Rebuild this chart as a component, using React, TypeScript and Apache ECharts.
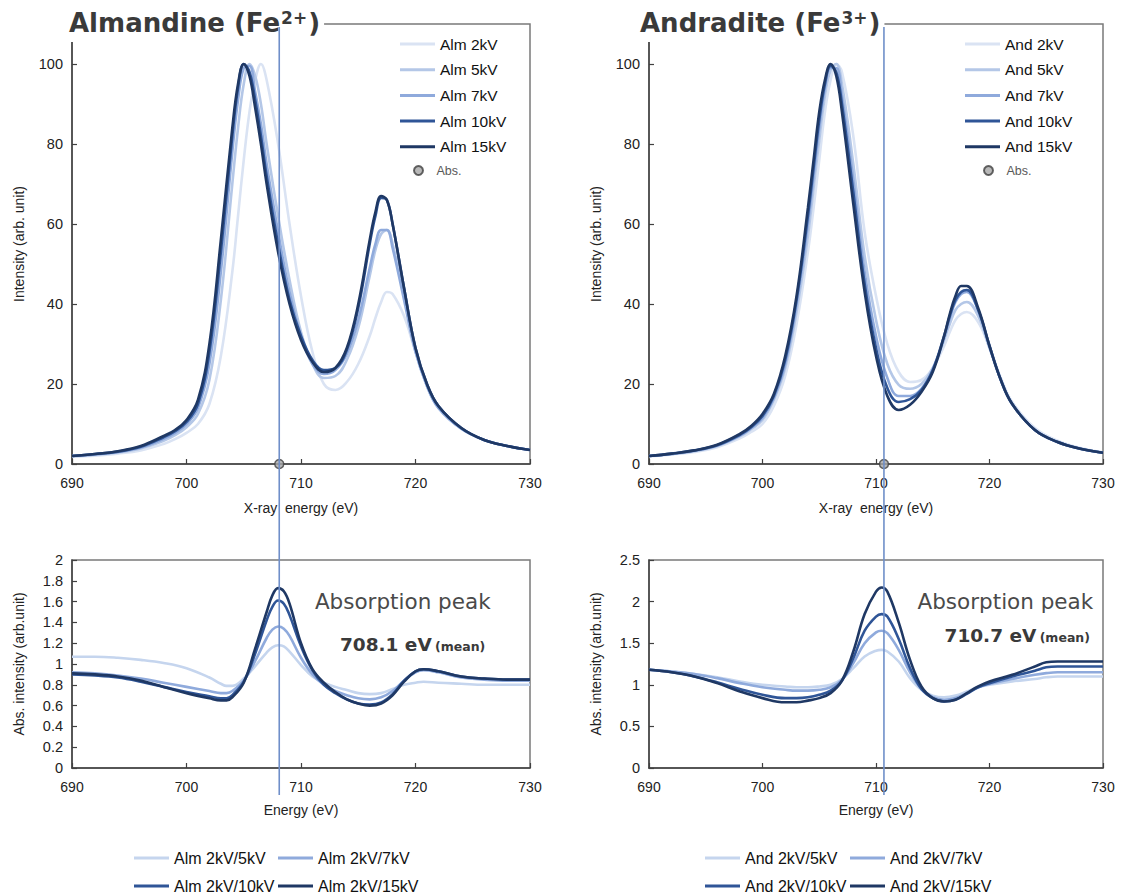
import React, { useEffect, useRef } from "react";
import * as echarts from "echarts";

// ---------- DATA ----------
const topEnergies = [690, 692, 694, 696, 698, 699, 700, 701, 702, 703, 704, 704.5, 705, 705.5, 706, 706.5, 707, 708, 709, 710, 711, 712, 713, 714, 715, 716, 716.5, 717, 717.5, 718, 719, 720, 721, 722, 724, 726, 728, 730];

const almNames = ["Alm 2kV", "Alm 5kV", "Alm 7kV", "Alm 10kV", "Alm 15kV"];
const alm2kV = [1.8, 2.1, 2.6, 3.4, 5, 6.2, 7.8, 10, 15, 27, 48, 62, 76, 88, 96, 100, 96, 80, 60, 42, 28, 20, 18.5, 20.5, 25, 32, 36.5, 40.5, 43, 42.5, 37, 28, 20, 14.5, 9, 6, 4.5, 3.5];
const alm5kV = [2, 2.3, 2.9, 3.9, 5.8, 7.2, 9.2, 12.5, 21, 41, 70, 84, 95, 100, 97, 90, 80, 62, 46, 33, 25, 21.5, 22, 26, 34, 47, 53.5, 57.5, 58.5, 55, 42, 28.5, 19.5, 14, 8.8, 6, 4.5, 3.5];
const alm7kV = [2, 2.4, 3, 4.1, 6.3, 7.8, 10, 14, 25, 48, 78, 91, 99, 99.5, 93, 85, 75, 58, 43, 32, 25, 22.5, 23.5, 27.5, 36, 49, 55, 58.5, 58.5, 54, 41, 28, 19.5, 14, 8.8, 6, 4.5, 3.5];
const alm10kV = [2, 2.5, 3.1, 4.3, 6.7, 8.2, 10.5, 15, 28, 53, 82, 94, 100, 98, 91, 82, 72, 55, 41, 32, 26, 23.5, 24, 28.5, 39, 55, 62, 66.5, 66, 60, 44, 29, 20, 14.5, 9, 6, 4.5, 3.5];
const alm15kV = [2, 2.5, 3.2, 4.5, 7, 8.5, 11, 16, 30, 56, 84, 95, 100, 97, 89, 80, 70, 53, 40, 31, 25.5, 23, 24, 29, 40, 56, 63, 67, 66, 60, 44, 29, 20, 14.5, 9, 6, 4.5, 3.5];

const andNames = ["And 2kV", "And 5kV", "And 7kV", "And 10kV", "And 15kV"];
const and2kV = [1.9, 2.4, 3, 4.2, 6.4, 8, 10, 14.5, 22, 35, 53, 64, 76, 88, 96, 100, 98, 82, 58, 42, 30, 23, 20.5, 21, 24, 29.5, 33, 36, 37.5, 38, 35.5, 29, 21.5, 15.5, 9, 5.8, 4, 2.9];
const and5kV = [2, 2.5, 3.2, 4.5, 6.9, 8.7, 11, 16, 24, 38, 57, 69, 81, 92, 98.5, 100, 95, 75, 52, 36, 25, 19.8, 18.8, 20, 24, 31, 35, 38.5, 40, 40.5, 37, 29, 21, 15, 8.5, 5.5, 3.8, 2.8];
const and7kV = [2, 2.5, 3.3, 4.6, 7.1, 9, 11.5, 16.5, 25, 40, 60, 72, 84, 94, 99, 99, 92, 71, 48, 32, 21.5, 17, 17, 18.8, 23.5, 31.5, 36.5, 40.5, 42.5, 43, 38.5, 29.5, 21, 15, 8.5, 5.5, 3.8, 2.8];
const and10kV = [2, 2.6, 3.4, 4.7, 7.3, 9.2, 12, 17, 26, 41, 62, 74, 86, 95, 99.5, 98, 90, 68, 45, 29, 19, 15.5, 16.2, 18.5, 23.5, 32, 37, 41, 43, 43.5, 38.5, 29.5, 21, 15, 8.5, 5.5, 3.8, 2.8];
const and15kV = [2, 2.6, 3.4, 4.8, 7.5, 9.5, 12.5, 17.5, 27, 42, 64, 76, 88, 96, 100, 97, 88, 65, 43, 27, 17, 13.5, 14.8, 18, 23, 32, 37.5, 42, 44.5, 44.5, 39, 29.5, 21, 15, 8.5, 5.5, 3.8, 2.8];

const almAbsEnergies = [690, 692, 694, 696, 698, 700, 702, 703, 703.5, 704, 705, 706, 707, 707.5, 708, 708.5, 709, 710, 711, 712, 713, 714, 715, 716, 717, 718, 719, 720, 720.7, 722, 724, 726, 728, 730];
const almRatioNames = ["Alm 2kV/5kV", "Alm 2kV/7kV", "Alm 2kV/10kV", "Alm 2kV/15kV"];
const almR5 = [1.07, 1.07, 1.06, 1.04, 1.01, 0.96, 0.87, 0.81, 0.79, 0.79, 0.86, 0.98, 1.11, 1.16, 1.18, 1.17, 1.12, 0.99, 0.88, 0.82, 0.78, 0.75, 0.72, 0.71, 0.72, 0.76, 0.8, 0.82, 0.83, 0.82, 0.81, 0.8, 0.8, 0.8];
const almR7 = [0.92, 0.91, 0.89, 0.86, 0.82, 0.78, 0.74, 0.72, 0.72, 0.74, 0.84, 1.03, 1.25, 1.33, 1.36, 1.34, 1.27, 1.06, 0.9, 0.8, 0.74, 0.7, 0.67, 0.66, 0.68, 0.74, 0.84, 0.92, 0.94, 0.92, 0.87, 0.85, 0.84, 0.84];
const almR10 = [0.9, 0.89, 0.87, 0.83, 0.78, 0.73, 0.69, 0.67, 0.67, 0.7, 0.83, 1.1, 1.42, 1.55, 1.61, 1.58, 1.47, 1.17, 0.94, 0.8, 0.72, 0.66, 0.62, 0.61, 0.63, 0.71, 0.84, 0.93, 0.95, 0.93, 0.88, 0.86, 0.85, 0.85];
const almR15 = [0.91, 0.9, 0.88, 0.84, 0.78, 0.72, 0.67, 0.65, 0.65, 0.68, 0.82, 1.15, 1.5, 1.66, 1.73, 1.7, 1.58, 1.2, 0.95, 0.82, 0.73, 0.66, 0.62, 0.6, 0.62, 0.7, 0.83, 0.93, 0.95, 0.93, 0.88, 0.86, 0.85, 0.85];

const andAbsEnergies = [690, 692, 694, 696, 698, 700, 702, 703, 704, 705, 706, 707, 708, 709, 710, 710.5, 711, 712, 713, 714, 715, 716, 717, 718, 719, 720, 722, 724, 725, 726, 728, 730];
const andRatioNames = ["And 2kV/5kV", "And 2kV/7kV", "And 2kV/10kV", "And 2kV/15kV"];
const andR5 = [1.18, 1.16, 1.13, 1.09, 1.04, 1.0, 0.98, 0.97, 0.97, 0.98, 1.0, 1.07, 1.2, 1.34, 1.41, 1.42, 1.4, 1.28, 1.08, 0.94, 0.87, 0.85, 0.87, 0.92, 0.97, 1.0, 1.04, 1.07, 1.09, 1.1, 1.1, 1.1];
const andR7 = [1.18, 1.16, 1.13, 1.08, 1.02, 0.97, 0.94, 0.93, 0.93, 0.94, 0.97, 1.06, 1.26, 1.5, 1.63, 1.65, 1.62, 1.42, 1.15, 0.95, 0.85, 0.82, 0.84, 0.9, 0.97, 1.01, 1.07, 1.12, 1.14, 1.15, 1.15, 1.15];
const andR10 = [1.18, 1.15, 1.1, 1.03, 0.95, 0.88, 0.84, 0.84, 0.85, 0.88, 0.93, 1.05, 1.32, 1.65, 1.82, 1.85, 1.82, 1.55, 1.2, 0.95, 0.84, 0.8, 0.82, 0.89, 0.97, 1.02, 1.1, 1.17, 1.21, 1.22, 1.22, 1.22];
const andR15 = [1.18, 1.15, 1.1, 1.02, 0.92, 0.84, 0.79, 0.79, 0.81, 0.84, 0.9, 1.05, 1.4, 1.85, 2.12, 2.17, 2.12, 1.75, 1.3, 0.98, 0.84, 0.8, 0.82, 0.9, 0.98, 1.04, 1.12, 1.22, 1.27, 1.28, 1.28, 1.28];

const absPeakAlm = 708.1;
const absPeakAnd = 710.7;
const xTickMin = 690;
const xTickMax = 730;

// ---------- STYLE ----------
const spectrumColors = ["#dae3f3", "#b4c7e7", "#8faadc", "#2f5597", "#1f3864"];
const ratioColors = ["#c5d5ee", "#8faadc", "#2f5597", "#1f3864"];
const FONT = "'Liberation Sans', Arial, sans-serif";
const VFONT = "'DejaVu Sans', Verdana, sans-serif";
const axisColor = "#404040";
const frameColor = "#7a7a7a";
const vlineColor = "#6f8fc9";

function zip(xs: number[], ys: number[]) {
  return xs.map((x, i) => [x, ys[i]]);
}

function lineSeries(names: string[], xs: number[], ys: number[][], colors: string[], axisIdx: number) {
  return names.map((name, i) => ({
    type: "line",
    name,
    xAxisIndex: axisIdx,
    yAxisIndex: axisIdx,
    data: zip(xs, ys[i]),
    smooth: 0.4,
    symbol: "none",
    lineStyle: { color: colors[i], width: 2.6 },
    itemStyle: { color: colors[i] },
    emphasis: { disabled: true },
    z: 2 + i,
  }));
}

function xAxisCfg(gridIndex: number, name: string, nameGap: number) {
  return {
    type: "value",
    gridIndex,
    min: xTickMin,
    max: xTickMax,
    interval: 10,
    name,
    nameLocation: "middle",
    nameGap,
    nameTextStyle: { fontFamily: FONT, fontSize: 14, color: "#222" },
    axisLine: { show: true, onZero: false, lineStyle: { color: axisColor, width: 1.5 } },
    axisTick: { show: true, inside: true, length: 5, lineStyle: { color: axisColor, width: 1.2 } },
    axisLabel: { fontFamily: FONT, fontSize: 14, color: "#222", margin: 12 },
    splitLine: { show: false },
  };
}

function yAxisCfg(gridIndex: number, name: string, max: number, interval: number, nameGap: number, hideAbove: number) {
  return {
    type: "value",
    gridIndex,
    min: 0,
    max,
    interval,
    name,
    nameLocation: "middle",
    nameGap,
    nameTextStyle: { fontFamily: FONT, fontSize: 14, color: "#222" },
    axisLine: { show: true, lineStyle: { color: axisColor, width: 1.5 } },
    axisTick: { show: true, inside: true, length: 5, lineStyle: { color: axisColor, width: 1.2 } },
    axisLabel: {
      fontFamily: FONT,
      fontSize: 14.5,
      color: "#222",
      margin: 9,
      formatter: (v: number) => (v > hideAbove + 1e-9 ? "" : String(Math.round(v * 10) / 10)),
    },
    splitLine: { show: false },
  };
}

function topLegend(names: string[], left: number) {
  return {
    orient: "vertical",
    left,
    top: 36,
    padding: 0,
    itemGap: 9.7,
    itemWidth: 35,
    itemHeight: 3,
    icon: "rect",
    data: names,
    textStyle: { fontFamily: FONT, fontSize: 15.5, color: "#111", lineHeight: 16 },
    selectedMode: false,
  };
}

function absLegend(left: number) {
  return {
    left,
    top: 164,
    padding: 0,
    itemWidth: 26,
    itemHeight: 9,
    icon: "circle",
    data: ["Abs."],
    textStyle: { fontFamily: FONT, fontSize: 12.5, color: "#595959" },
    selectedMode: false,
  };
}

function itemLegend(name: string, left: number, top: number) {
  return {
    left,
    top,
    padding: 0,
    itemWidth: 35,
    itemHeight: 3,
    icon: "rect",
    data: [name],
    textStyle: { fontFamily: FONT, fontSize: 16, color: "#111", lineHeight: 16 },
    selectedMode: false,
  };
}

function titleCfg(main: string, sup: string, left: number) {
  return {
    text: `${main}{sup|${sup}}{b|)}`,
    left,
    top: 4,
    padding: [2, 4, 2, 0],
    backgroundColor: "#ffffff",
    textStyle: {
      fontFamily: VFONT,
      fontSize: 26,
      fontWeight: "bold",
      color: "#3a3a3a",
      lineHeight: 34,
      rich: {
        sup: { fontFamily: VFONT, fontSize: 17, fontWeight: "bold", color: "#3a3a3a", verticalAlign: "top", lineHeight: 20, padding: [3, 1, 0, 1] },
        b: { fontFamily: VFONT, fontSize: 26, fontWeight: "bold", color: "#3a3a3a", lineHeight: 34 },
      },
    },
  };
}

export default function App() {
  const ref = useRef<HTMLDivElement>(null);

  useEffect(() => {
    if (!ref.current) return;
    const chart = echarts.init(ref.current, undefined, { renderer: "svg" });

    const grids = [
      { left: 72, top: 24, width: 458, height: 440 },
      { left: 649, top: 24, width: 454, height: 440 },
      { left: 72, top: 560, width: 458, height: 208 },
      { left: 649, top: 560, width: 454, height: 208 },
    ].map((g) => ({ ...g, show: true, borderColor: frameColor, borderWidth: 1.5, backgroundColor: "transparent" }));

    const absPointStyle = { color: "#a6a6a6", borderColor: "#404040", borderWidth: 1.5 };

    const option: any = {
      animation: false,
      backgroundColor: "#ffffff",
      title: [titleCfg("Almandine (Fe", "2+", 69), titleCfg("Andradite (Fe", "3+", 640)],
      grid: grids,
      xAxis: [
        xAxisCfg(0, "X-ray  energy (eV)", 37),
        xAxisCfg(1, "X-ray  energy (eV)", 37),
        xAxisCfg(2, "Energy (eV)", 35),
        xAxisCfg(3, "Energy (eV)", 35),
      ],
      yAxis: [
        yAxisCfg(0, "Intensity (arb. unit)", 110, 20, 46, 100),
        yAxisCfg(1, "Intensity (arb. unit)", 110, 20, 46, 100),
        yAxisCfg(2, "Abs. intensity (arb.unit)", 2, 0.2, 46, 2),
        yAxisCfg(3, "Abs. intensity (arb.unit)", 2.5, 0.5, 46, 2.5),
      ],
      legend: [
        topLegend(almNames, 400),
        absLegend(413),
        topLegend(andNames, 965),
        absLegend(983),
        itemLegend(almRatioNames[0], 134, 850),
        itemLegend(almRatioNames[1], 278, 850),
        itemLegend(almRatioNames[2], 134, 878),
        itemLegend(almRatioNames[3], 278, 878),
        itemLegend(andRatioNames[0], 705, 850),
        itemLegend(andRatioNames[1], 850, 850),
        itemLegend(andRatioNames[2], 705, 878),
        itemLegend(andRatioNames[3], 850, 878),
      ],
      series: [
        ...lineSeries(almNames, topEnergies, [alm2kV, alm5kV, alm7kV, alm10kV, alm15kV], spectrumColors, 0),
        ...lineSeries(andNames, topEnergies, [and2kV, and5kV, and7kV, and10kV, and15kV], spectrumColors, 1),
        ...lineSeries(almRatioNames, almAbsEnergies, [almR5, almR7, almR10, almR15], ratioColors, 2),
        ...lineSeries(andRatioNames, andAbsEnergies, [andR5, andR7, andR10, andR15], ratioColors, 3),
        {
          type: "scatter",
          name: "Abs.",
          xAxisIndex: 0,
          yAxisIndex: 0,
          data: [[absPeakAlm, 0]],
          symbol: "circle",
          symbolSize: 9,
          clip: false,
          itemStyle: absPointStyle,
          z: 20,
        },
        {
          type: "scatter",
          name: "Abs.",
          xAxisIndex: 1,
          yAxisIndex: 1,
          data: [[absPeakAnd, 0]],
          symbol: "circle",
          symbolSize: 9,
          clip: false,
          itemStyle: absPointStyle,
          z: 20,
        },
      ],
    };

    chart.setOption(option);

    // Vertical absorption-peak lines and annotations, positioned through the axes
    const pTopL = chart.convertToPixel({ gridIndex: 0 } as any, [absPeakAlm, 110]) as number[];
    const pBotL = chart.convertToPixel({ gridIndex: 2 } as any, [absPeakAlm, 0]) as number[];
    const pTopR = chart.convertToPixel({ gridIndex: 1 } as any, [absPeakAnd, 110]) as number[];
    const pBotR = chart.convertToPixel({ gridIndex: 3 } as any, [absPeakAnd, 0]) as number[];
    const annL = chart.convertToPixel({ gridIndex: 2 } as any, [712, 1.6]) as number[];
    const annR = chart.convertToPixel({ gridIndex: 3 } as any, [716.3, 2]) as number[];

    const vline = (top: number[], bot: number[]) => ({
      type: "line",
      z: 50,
      shape: { x1: top[0], y1: top[1] + 3, x2: bot[0], y2: bot[1] + 27 },
      style: { stroke: vlineColor, lineWidth: 1.6 },
      silent: true,
    });

    const annText = (p: number[], valueText: string, dx: number, dy: number) => [
      {
        type: "text",
        z: 60,
        x: p[0],
        y: p[1],
        style: { text: "Absorption peak", fontFamily: VFONT, fontSize: 21.5, fill: "#4a4a4a", textVerticalAlign: "middle" },
      },
      {
        type: "text",
        z: 60,
        x: p[0] + dx,
        y: p[1] + dy,
        style: {
          text: `{v|${valueText}} {m|(mean)}`,
          textVerticalAlign: "middle",
          rich: {
            v: { fontFamily: VFONT, fontSize: 18.5, fontWeight: "bold", fill: "#3a3a3a", lineHeight: 24, verticalAlign: "bottom" },
            m: { fontFamily: VFONT, fontSize: 12.5, fontWeight: "bold", fill: "#3a3a3a", lineHeight: 24, verticalAlign: "bottom", padding: [0, 0, 1, 0] },
          },
        },
      },
    ];

    chart.setOption({
      graphic: [
        vline(pTopL, pBotL),
        vline(pTopR, pBotR),
        ...annText([annL[0] - 9, annL[1]], `${absPeakAlm.toFixed(1)} eV`, 25, 40),
        ...annText([annR[0] - 30, annR[1]], `${absPeakAnd.toFixed(1)} eV`, 27, 31),
      ],
    });

    return () => chart.dispose();
  }, []);

  return (
    <div
      ref={ref}
      style={{ position: "absolute", left: 0, top: 0, width: 1121, height: 896, background: "#fff" }}
    />
  );
}
